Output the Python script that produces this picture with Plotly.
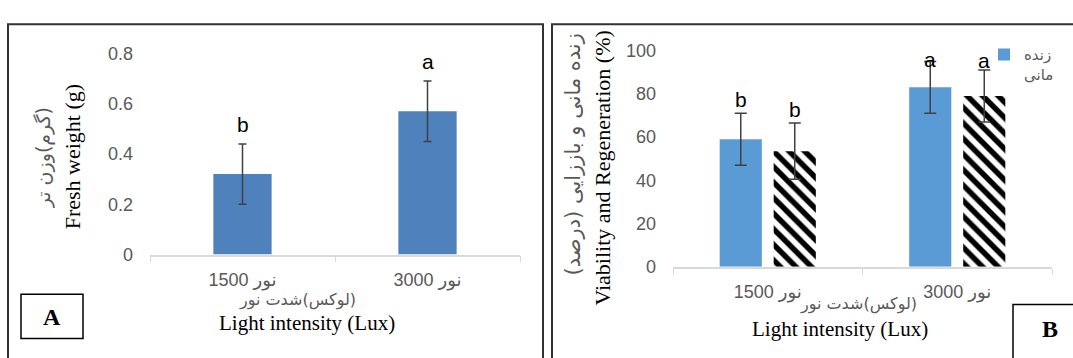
import plotly.graph_objects as go

# ---------------- data ----------------
categories = ["نور 1500", "نور 3000"]
fresh_weight = [0.32, 0.57]
fresh_err = [0.12, 0.12]
fresh_letters = ["b", "a"]

viability = [59, 83]
viability_err = [12, 12]
viability_letters = ["b", "a"]
regeneration = [53.5, 79]
regeneration_err = [13, 12]
regeneration_letters = ["b", "a"]

W, H = 1073, 358
def fx(p):
    return p / W
def fy(p):
    return 1 - p / H

PERSIAN = "DejaVu Sans"
SERIF = "Liberation Serif"
SANS = "Liberation Sans"
GRAY = "#595959"

fig = go.Figure()

fig.add_trace(go.Bar(
    x=categories, y=fresh_weight, xaxis="x", yaxis="y",
    width=0.315,
    marker=dict(color="#4F81BD", line=dict(width=0)),
    error_y=dict(type="data", array=fresh_err, color="#404040", thickness=1.5, width=4),
    showlegend=False,
))

fig.add_trace(go.Bar(
    x=categories, y=viability, xaxis="x2", yaxis="y2",
    name="زنده<br>مانی",
    marker=dict(color="#5B9BD5", line=dict(width=0)),
    error_y=dict(type="data", array=viability_err, color="#404040", thickness=1.5, width=6),
    showlegend=True,
))
fig.add_trace(go.Bar(
    x=categories, y=regeneration, xaxis="x2", yaxis="y2",
    name="باززایی",
    marker=dict(color="white", line=dict(width=0),
                pattern=dict(shape="\\", fgcolor="#000000", bgcolor="#ffffff", fgopacity=1,
                             size=11, solidity=0.5)),
    error_y=dict(type="data", array=regeneration_err, color="#404040", thickness=1.5, width=6),
    showlegend=False,
))

annotations = []
# significance letters
for c, v, e, l in zip(categories, fresh_weight, fresh_err, fresh_letters):
    annotations.append(dict(x=c, y=v + e, xref="x", yref="y", text=l, showarrow=False,
                            yanchor="bottom", yshift=6,
                            font=dict(family=SANS, size=21, color="black")))
for c, v, e, l, ys in zip(categories, viability, viability_err, viability_letters, [0, -12]):
    annotations.append(dict(x=c, y=v + e, xref="x2", yref="y2", text=l, showarrow=False,
                            yanchor="bottom", yshift=ys, xshift=-27,
                            font=dict(family=SANS, size=21, color="black")))
for c, v, e, l, ys in zip(categories, regeneration, regeneration_err, regeneration_letters, [0, -4]):
    annotations.append(dict(x=c, y=v + e, xref="x2", yref="y2", text=l, showarrow=False,
                            yanchor="bottom", yshift=ys, xshift=27,
                            font=dict(family=SANS, size=21, color="black")))

def ann(text, x, y, size, family, color="black", angle=0, bold=False):
    annotations.append(dict(
        x=fx(x), y=fy(y), xref="paper", yref="paper", text=("<b>%s</b>" % text) if bold else text,
        showarrow=False, xanchor="center", yanchor="middle", textangle=angle,
        font=dict(family=family, size=size, color=color)))

# Panel A titles
ann("Fresh weight (g)", 72, 156, 22, SERIF, angle=-90)
ann("\u200f(گرم)وزن تر\u200f", 43, 157, 19, PERSIAN, color=GRAY, angle=-90)
ann("\u200f(لوکس)شدت نور\u200f", 297, 307, 16, PERSIAN, color=GRAY)
ann("Light intensity (Lux)", 307, 332, 21, SERIF)
ann("A", 52, 325, 24, SERIF, bold=True)

# Panel B titles
ann("Viability and Regeneration (%)", 603, 168, 22, SERIF, angle=-90)
ann("\u200fزنده مانی و باززایی (درصد)\u200f", 573, 153, 21, PERSIAN, color=GRAY, angle=-90)
ann("\u200f(لوکس)شدت نور\u200f", 858, 311, 16, PERSIAN, color=GRAY)
ann("Light intensity (Lux)", 840, 338, 21, SERIF)
ann("B", 1050, 338, 24, SERIF, bold=True)

shapes = [
    dict(type="rect", xref="paper", yref="paper", x0=fx(8), x1=fx(543), y0=fy(15), y1=fy(375),
         line=dict(color="#333333", width=2)),
    dict(type="rect", xref="paper", yref="paper", x0=fx(552), x1=fx(1090), y0=fy(15), y1=fy(375),
         line=dict(color="#333333", width=2)),
    dict(type="rect", xref="paper", yref="paper", x0=fx(21), x1=fx(83), y0=fy(301), y1=fy(348),
         line=dict(color="black", width=1.5)),
    dict(type="rect", xref="paper", yref="paper", x0=fx(1013), x1=fx(1090), y0=fy(312), y1=fy(375),
         line=dict(color="black", width=1.5)),
]

xaxis_common = dict(
    type="category", showline=True, linecolor="#D9D9D9", linewidth=1.5,
    ticks="outside", tickson="boundaries", ticklen=6, tickcolor="#D9D9D9",
    showgrid=False, zeroline=False,
    tickfont=dict(family=SANS + ", " + PERSIAN, size=18, color=GRAY),
)
yaxis_common = dict(
    showline=False, showgrid=False, zeroline=False, ticks="",
    tickfont=dict(family=SANS, size=18, color=GRAY),
)

fig.update_layout(
    width=W, height=H, autosize=False,
    margin=dict(l=0, r=0, t=0, b=0),
    paper_bgcolor="white", plot_bgcolor="white",
    barmode="group", bargap=0.43, bargroupgap=0.22,
    xaxis=dict(domain=[fx(150), fx(520)], anchor="y", ticklabelstandoff=8, **xaxis_common),
    yaxis=dict(domain=[fy(259), fy(46)], anchor="x", range=[0, 0.8], dtick=0.2,
               ticklabelstandoff=16, **yaxis_common),
    xaxis2=dict(domain=[fx(673), fx(1052)], anchor="y2", ticklabelstandoff=8, **xaxis_common),
    yaxis2=dict(domain=[fy(272), fy(43)], anchor="x2", range=[0, 100], dtick=20,
                ticklabelstandoff=16, **yaxis_common),
    legend=dict(x=fx(984), y=fy(30), xanchor="left", yanchor="top", valign="top",
                bgcolor="rgba(0,0,0,0)", font=dict(family=PERSIAN, size=15, color=GRAY),
                itemwidth=30, tracegroupgap=0),
    annotations=annotations,
    shapes=shapes,
)

fig.write_html("out.html", config={"displayModeBar": False},
               post_script="document.body.style.margin='0';")
